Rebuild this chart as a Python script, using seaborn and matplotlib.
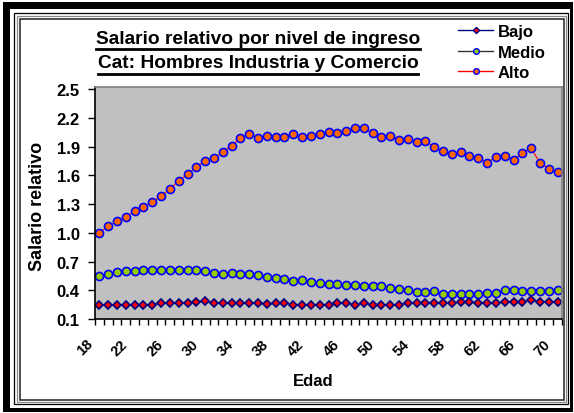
import numpy as np
import pandas as pd
import matplotlib
matplotlib.use('Agg')
import matplotlib.pyplot as plt
import matplotlib.transforms as mtransforms
import seaborn as sns
from matplotlib.patches import Rectangle
from matplotlib.lines import Line2D
from matplotlib.ticker import FixedLocator, FuncFormatter

edades = list(range(18, 71))

alto = [1.00, 1.07, 1.12, 1.16, 1.23, 1.27, 1.32, 1.38, 1.46, 1.54, 1.61, 1.69, 1.75, 1.78,
        1.84, 1.91, 1.99, 2.03, 1.99, 2.01, 2.00, 2.00, 2.03, 2.00, 2.01, 2.03, 2.05,
        2.04, 2.06, 2.09, 2.09, 2.04, 2.00, 2.01, 1.97, 1.98, 1.95, 1.96, 1.89, 1.85,
        1.82, 1.84, 1.80, 1.78, 1.73, 1.79, 1.80, 1.76, 1.83, 1.88, 1.73, 1.67, 1.63]

medio = [0.545, 0.57, 0.59, 0.60, 0.60, 0.61, 0.61, 0.61, 0.61, 0.61, 0.61, 0.61, 0.60,
         0.58, 0.57, 0.58, 0.57, 0.565, 0.555, 0.54, 0.53, 0.52, 0.50, 0.51, 0.49, 0.48,
         0.465, 0.465, 0.455, 0.45, 0.44, 0.44, 0.44, 0.425, 0.41, 0.40, 0.385, 0.385,
         0.39, 0.365, 0.36, 0.36, 0.36, 0.36, 0.375, 0.375, 0.40, 0.40, 0.39, 0.39, 0.39,
         0.39, 0.405]

bajo = [0.25, 0.25, 0.25, 0.25, 0.25, 0.25, 0.25, 0.265, 0.265, 0.265, 0.265, 0.277,
        0.284, 0.265, 0.265, 0.265, 0.265, 0.265, 0.265, 0.255, 0.265, 0.265, 0.25, 0.25,
        0.25, 0.25, 0.25, 0.265, 0.265, 0.25, 0.262, 0.25, 0.25, 0.25, 0.25, 0.265, 0.265,
        0.265, 0.265, 0.262, 0.265, 0.28, 0.28, 0.265, 0.265, 0.265, 0.28, 0.28, 0.28,
        0.294, 0.28, 0.28, 0.28]

y_ticks = [0.1, 0.4, 0.7, 1.0, 1.3, 1.6, 1.9, 2.2, 2.5]
x_labels = list(range(18, 71, 4))

df = pd.DataFrame({'Edad': edades, 'Bajo': bajo, 'Medio': medio, 'Alto': alto})

# estilo de cada serie: linea, marcador, relleno, borde, tamano
estilos = {
    'Bajo': ('#000080', 'D', '#FF0000', '#000080', 4.5),
    'Medio': ('#333333', 'o', '#99CC00', '#0000FF', 5.8),
    'Alto': ('#FF0000', 'o', '#FF6600', '#0000FF', 5.8),
}

W, H = 574, 414
plt.rcParams['font.family'] = ['Liberation Sans', 'DejaVu Sans']
plt.rcParams['font.weight'] = 'bold'

fig = plt.figure(figsize=(W / 100, H / 100), dpi=100)
fig.patch.set_facecolor('white')


def fx(x):
    return x / W


def fy(y):
    return 1 - y / H


# marco exterior estilo excel
fig.add_artist(Rectangle((fx(3), fy(413)), fx(570), 410 / H, facecolor='black',
                         edgecolor='none', transform=fig.transFigure, zorder=0))
fig.add_artist(Rectangle((fx(10), fy(409)), fx(560), 399 / H, facecolor='white',
                         edgecolor='none', transform=fig.transFigure, zorder=0))
fig.add_artist(Rectangle((fx(14), fy(405)), fx(554), 391 / H, facecolor='none',
                         edgecolor='black', lw=0.9, transform=fig.transFigure, zorder=1))
fig.add_artist(Rectangle((fx(16.5), fy(403)), fx(549.5), 386.5 / H, facecolor='none',
                         edgecolor='#888888', lw=0.9, transform=fig.transFigure, zorder=1))
fig.add_artist(Rectangle((fx(20), fy(401)), fx(544), 381 / H, facecolor='white',
                         edgecolor='#333333', lw=1.2, transform=fig.transFigure, zorder=1))

ax = fig.add_axes([fx(95), fy(320), fx(467), 232 / H], zorder=3)
ax.set_facecolor('#C0C0C0')

for serie in ['Alto', 'Medio', 'Bajo']:
    lc, mk, mf, me, ms = estilos[serie]
    sns.lineplot(data=df, x='Edad', y=serie, ax=ax, color=lc, lw=0.8,
                 marker=mk, markersize=ms, markerfacecolor=mf,
                 markeredgecolor=me, markeredgewidth=1.2, legend=False)

ax.set_xlim(17.5, 70.5)
ax.set_ylim(0.1, 2.5 + 2 / 95.8)

ax.yaxis.set_major_locator(FixedLocator(y_ticks))
ax.yaxis.set_major_formatter(FuncFormatter(lambda v, p: f'{v:.1f}'))
ax.tick_params(axis='y', direction='out', length=5, width=1, labelsize=12, pad=6)

ax.set_xticks(x_labels)
ax.set_xticklabels([str(v) for v in x_labels], rotation=45, ha='right', va='center',
                   rotation_mode='anchor', fontsize=10.5)
ax.xaxis.set_minor_locator(FixedLocator(np.arange(17.5, 71, 1)))
ax.tick_params(axis='x', which='major', length=0, pad=16)
ax.tick_params(axis='x', which='minor', direction='out', length=4, width=1)
desplaza = mtransforms.ScaledTranslation(-9 / 100, 0, fig.dpi_scale_trans)
for lab in ax.get_xticklabels():
    lab.set_transform(lab.get_transform() + desplaza)

for s in ['left', 'bottom']:
    ax.spines[s].set_color('black')
    ax.spines[s].set_linewidth(1.2)
for s in ['top', 'right']:
    ax.spines[s].set_color('#808080')
    ax.spines[s].set_linewidth(1.2)

ax.set_xlabel('Edad', fontsize=12, fontweight='bold')
ax.set_ylabel('Salario relativo', fontsize=13, fontweight='bold')
ax.xaxis.set_label_coords((313 - 95) / 467, -(374 - 320) / 232)
ax.yaxis.set_label_coords(-(95 - 46) / 467, (320 - 206) / 232)

# titulo en dos lineas subrayadas
titulos = ['Salario relativo por nivel de ingreso', 'Cat: Hombres Industria y Comercio']
t_objs = []
for txt, yc in zip(titulos, [40, 64]):
    t_objs.append(fig.text(fx(258), fy(yc), txt, ha='center', va='center',
                           fontsize=13.8, fontweight='bold'))

orden = ['Bajo', 'Medio', 'Alto']
handles = []
for k in orden:
    lc, mk, mf, me, ms = estilos[k]
    handles.append(Line2D([], [], color=lc, lw=1, marker=mk, markersize=ms * 0.7,
                          markerfacecolor=mf, markeredgecolor=me, markeredgewidth=1))
fig.legend(handles, orden, loc='upper left', bbox_to_anchor=(fx(458), fy(25)),
           frameon=False, handlelength=2.1, handletextpad=0.3, labelspacing=0.33,
           borderpad=0, borderaxespad=0, labelcolor='black',
           prop={'weight': 'bold', 'size': 12})

fig.canvas.draw()
for t, yl in zip(t_objs, [50, 75]):
    bb = t.get_window_extent()
    fig.add_artist(Line2D([fx(bb.x0), fx(bb.x1)], [fy(yl), fy(yl)], color='black',
                          lw=2, transform=fig.transFigure))

fig.savefig('out.png', dpi=100)
